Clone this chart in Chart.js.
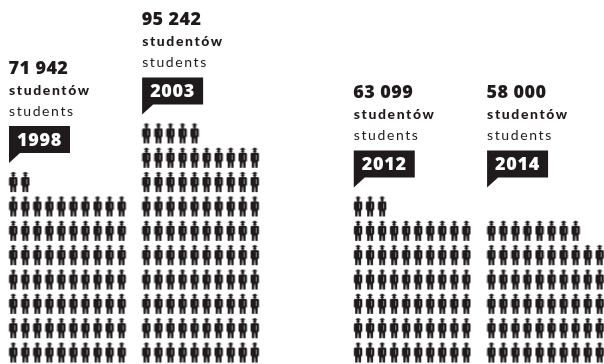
<!DOCTYPE html>
<html lang="pl">
<head>
<meta charset="utf-8">
<title>Liczba studentów</title>
<script src="https://cdn.jsdelivr.net/npm/chart.js@4"></script>
<style>
  html, body { margin: 0; padding: 0; background: #fff; }
  #wrap { position: relative; width: 604px; height: 364px; overflow: hidden; }
</style>
</head>
<body>
<div id="wrap"><canvas id="chart" width="604" height="364"></canvas></div>
<script>
// Students per year; one figure stands for a thousand students.
const years = ['1998', '2003', '2012', '2014'];
const studentCounts = [71942, 95242, 63099, 58000];
const countLabels = ['71 942', '95 242', '63 099', '58 000'];
const labelPl = 'studentów';
const labelEn = 'students';

const studentsPerFigure = 1000;
const figuresPerRow = 10;

// Left-most column of each block, in column units of the x scale.
const blockStart = [1.105, 12.17, 29.76, 40.84];
// Row of the figure grid each caption hangs above.
const captionRow = [7, 9, 6, 6];
const INK = '#1f1b1c';

// Builds the small graduate figure used as the point style.
function makeFigure() {
  const w = 10, h = 22;
  const c = document.createElement('canvas');
  c.width = w; c.height = h;
  const g = c.getContext('2d');
  g.fillStyle = INK;
  // mortarboard
  g.beginPath();
  g.moveTo(5, 0.8); g.lineTo(8, 2.3); g.lineTo(5, 3.4); g.lineTo(2, 2.3); g.closePath(); g.fill();
  // head
  g.beginPath(); g.arc(5, 4.3, 1.6, 0, Math.PI * 2); g.fill();
  // jacket and legs
  g.beginPath();
  g.moveTo(1.6, 6); g.lineTo(8.4, 6); g.lineTo(9.2, 7); g.lineTo(9.2, 14.6); g.lineTo(8, 14.6);
  g.lineTo(7.9, 21); g.lineTo(5.6, 21); g.lineTo(5.3, 15.8); g.lineTo(4.7, 15.8);
  g.lineTo(4.4, 21); g.lineTo(2.1, 21); g.lineTo(2, 14.6); g.lineTo(0.8, 14.6); g.lineTo(0.8, 7);
  g.closePath(); g.fill();
  // pale shirt front
  g.fillStyle = 'rgba(255,255,255,0.7)';
  g.fillRect(6.3, 8, 0.7, 5);
  return c;
}

const figure = makeFigure();

// Lays each block out row by row, bottom row first.
function figuresFor(students, startColumn) {
  const n = Math.round(students / studentsPerFigure);
  const pts = [];
  for (let i = 0; i < n; i++) {
    pts.push({ x: startColumn + (i % figuresPerRow), y: Math.floor(i / figuresPerRow) });
  }
  return pts;
}

function spaced(ctx, text, x, y, font, spacing, color) {
  ctx.font = font;
  ctx.letterSpacing = spacing + 'px';
  ctx.fillStyle = color;
  ctx.fillText(text, x, y);
  ctx.letterSpacing = '0px';
}

// Draws the count, both captions and the year flag above every block.
const captionPlugin = {
  id: 'captions',
  afterDatasetsDraw(chart) {
    const { ctx, scales: { x, y } } = chart;
    ctx.save();
    ctx.textBaseline = 'alphabetic';
    ctx.textAlign = 'left';
    studentCounts.forEach((v, i) => {
      const left = x.getPixelForValue(blockStart[i]) - 4.3;
      const boxTop = y.getPixelForValue(captionRow[i]) - 56;
      const boxH = 27, boxW = 61;

      ctx.fillStyle = INK;
      ctx.beginPath();
      ctx.moveTo(left, boxTop);
      ctx.lineTo(left + boxW, boxTop);
      ctx.lineTo(left + boxW, boxTop + boxH);
      ctx.lineTo(left + 11, boxTop + boxH);
      ctx.lineTo(left, boxTop + boxH + 10);
      ctx.closePath();
      ctx.fill();

      spaced(ctx, years[i], left + 8, boxTop + 19.5, '800 18px "Open Sans"', 0.7, '#fff');
      spaced(ctx, labelEn, left, boxTop - 10.5, '400 14px "Lato"', 1.6, INK);
      spaced(ctx, labelPl, left, boxTop - 31.5, '900 14px "Lato"', 1.6, INK);
      spaced(ctx, countLabels[i], left - 0.5, boxTop - 52.5, '800 18px "Open Sans"', 0.4, INK);
    });
    ctx.restore();
  }
};

new Chart(document.getElementById('chart'), {
  type: 'scatter',
  data: {
    datasets: years.map((year, i) => ({
      label: year,
      data: figuresFor(studentCounts[i], blockStart[i]),
      pointStyle: figure,
      pointRadius: 5,
      pointHoverRadius: 5
    }))
  },
  options: {
    responsive: false,
    animation: false,
    layout: { autoPadding: false, padding: 0 },
    plugins: { legend: { display: false }, tooltip: { enabled: false } },
    scales: {
      x: { type: 'linear', display: false, min: 0, max: 50.2 },
      y: { type: 'linear', display: false, min: -0.47, max: 14.48 }
    }
  },
  plugins: [captionPlugin]
});
</script>
</body>
</html>
